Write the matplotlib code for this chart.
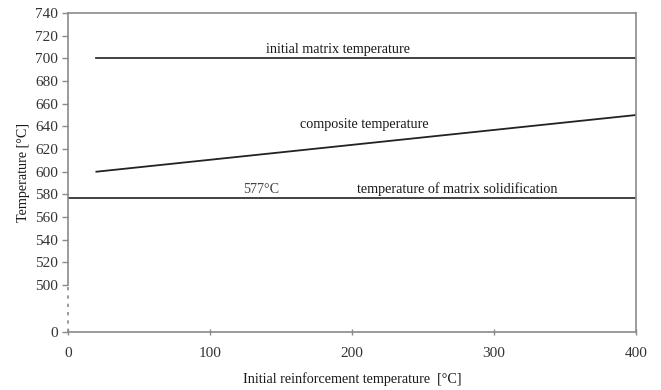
import matplotlib
matplotlib.use("Agg")
import matplotlib.pyplot as plt

# data
x_reinf = [20, 400]
matrix_temp = [700, 700]
composite_temp = [600, 650]
solid_x = [0, 400]
solid_temp = [577, 577]
yticks_main = [500, 520, 540, 560, 580, 600, 620, 640, 660, 680, 700, 720, 740]
xticks = [0, 100, 200, 300, 400]
zero_pos = 458.6  # position of the broken-axis "0" on the plotted scale

plt.rcParams['font.family'] = ['Liberation Serif', 'DejaVu Serif']
fig = plt.figure(figsize=(6.61, 3.90), dpi=100)
ax = fig.add_axes([68/661, 1-332/390, (636-68)/661, (332-13)/390])

lc = '#333333'
sc = '#8a8a8a'
ax.plot(x_reinf, matrix_temp, color=lc, lw=1.3)
ax.plot(x_reinf, composite_temp, color='#222222', lw=1.3)
ax.plot(solid_x, solid_temp, color=lc, lw=1.3)

ax.set_xlim(0, 400)
ax.set_ylim(zero_pos, 740)
ax.set_xticks(xticks)
ax.set_yticks([zero_pos] + yticks_main)
ax.set_yticklabels(['0'] + [str(v) for v in yticks_main])

for s in ['top', 'right', 'bottom']:
    ax.spines[s].set_color(sc)
    ax.spines[s].set_linewidth(1.2)
ax.spines['left'].set_color(sc)
ax.spines['left'].set_linewidth(1.2)
ax.spines['left'].set_bounds(500, 740)
ax.plot([0, 0], [zero_pos, 500], transform=ax.transData, color=sc, lw=1.2,
        ls=(0, (2, 3)), clip_on=False)

ax.tick_params(axis='y', direction='out', length=4, color=sc, width=1,
               labelsize=11, labelcolor='#333333', pad=3)
ax.tick_params(axis='x', direction='inout', length=5, color=sc, width=1,
               labelsize=11, labelcolor='#333333', pad=8)

ax.set_xlabel('Initial reinforcement temperature  [°C]', fontsize=10.2, color='#1a1a1a', labelpad=9)
ax.set_ylabel('Temperature [°C]', fontsize=10.2, color='#1a1a1a', labelpad=4)

ax.text(190, 702, 'initial matrix temperature', ha='center', va='bottom', fontsize=10.2, color='#1a1a1a')
ax.text(209, 636, 'composite temperature', ha='center', va='bottom', fontsize=10.2, color='#1a1a1a')
ax.text(136, 579, '577°C', ha='center', va='bottom', fontsize=10.2, color='#444444')
ax.text(274, 579, 'temperature of matrix solidification', ha='center', va='bottom', fontsize=10.2, color='#1a1a1a')

fig.savefig('out.png', dpi=100)
